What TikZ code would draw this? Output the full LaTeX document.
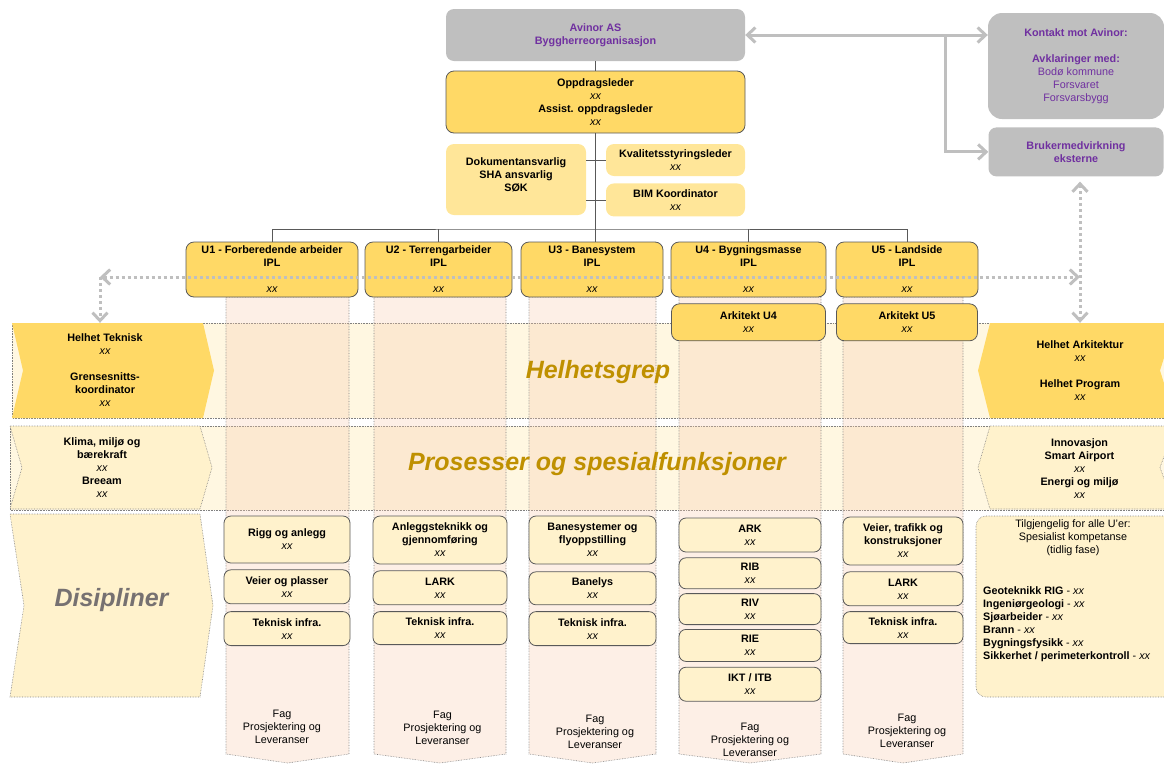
\documentclass[tikz,border=0pt]{standalone}
\usepackage{fontspec}
\setmainfont{Liberation Sans}
\usepackage{tikz}
\usetikzlibrary{positioning, arrows.meta}

\definecolor{avgray}{HTML}{BFBFBF}
\definecolor{avpurple}{HTML}{7030A0}
\definecolor{ipl}{HTML}{FFD966}
\definecolor{stab}{HTML}{FFE699}
\definecolor{fag}{HTML}{FFF2CC}
\definecolor{band}{HTML}{FFF7E1}
\definecolor{colfill}{HTML}{F8CBAD}
\definecolor{gold}{HTML}{BF9000}
\definecolor{disgray}{HTML}{767171}
\definecolor{linegray}{HTML}{595959}
\newcommand{\boxfont}{\fontsize{10.8}{13}\selectfont}
\newcommand{\xx}{{\normalfont\itshape xx}}

\begin{document}
\begin{tikzpicture}[
    x=1pt, y=-1pt,
    >={Straight Barb[length=8pt,width=15pt]},
    topnode/.style={fill=avgray,rounded corners=8,text=avpurple,font=\boxfont\bfseries,align=center,inner sep=0pt},
    iplnode/.style={draw=linegray,line width=.8pt,fill=ipl,rounded corners=8,font=\boxfont\bfseries,align=center,inner sep=0pt},
    stabnode/.style={fill=stab,rounded corners=8,font=\boxfont\bfseries,align=center,inner sep=0pt},
    fagnode/.style={draw=linegray,line width=.8pt,fill=fag,rounded corners=7,minimum width=#1,font=\boxfont\bfseries,align=center,inner sep=0pt},
    chevnode/.style={font=\boxfont\bfseries,align=center,inner sep=0pt},
    plainnode/.style={font=\boxfont,align=center,inner sep=0pt},
    bandrow/.style={fill=band,draw=gray,line width=.6pt,densely dotted},
    bandcol/.style={fill=colfill,fill opacity=.3,draw=gray,line width=.6pt,densely dotted},
    bigtext/.style={font=\fontsize{25}{30}\selectfont\bfseries\itshape,text=gold},
    tree/.style={draw=linegray,line width=.8pt},
    grayarrow/.style={draw=avgray,line width=3pt},
    dotarrow/.style={draw=avgray,line width=3pt,dash pattern=on 3pt off 3pt}
]
\useasboundingbox (0,0) rectangle (1164,764);
\clip (0,0) rectangle (1164,764);

% rader
\filldraw[bandrow] (12,323) rectangle (1175,418);
\filldraw[bandrow] (10,426) rectangle (1175,510);

% kolonner U1-U5
\filldraw[bandcol] (226,297) -- (349,297) -- (349,754) -- (287.5,763) -- (226,754) -- cycle;
\filldraw[bandcol] (374,297) -- (506,297) -- (506,754) -- (440,763) -- (374,754) -- cycle;
\filldraw[bandcol] (529,297) -- (656,297) -- (656,754) -- (592.5,763) -- (529,754) -- cycle;
\filldraw[bandcol] (679,297) -- (821,297) -- (821,754) -- (750,763) -- (679,754) -- cycle;
\filldraw[bandcol] (843,297) -- (963,297) -- (963,754) -- (903,763) -- (843,754) -- cycle;

% piler venstre og hoyre
\fill[ipl] (12,323) -- (203,323) -- (214,370.5) -- (203,418) -- (12,418) -- (23,370.5) -- cycle;
\filldraw[fill=fag,draw=gray,line width=.6pt,densely dotted] (10,426) -- (200,426) -- (212,467.5) -- (200,509) -- (10,509) -- (22,467.5) -- cycle;
\filldraw[fill=fag,draw=gray,line width=.6pt,densely dotted] (10,514) -- (200,514) -- (213,605.5) -- (200,697) -- (10,697) -- (24,605.5) -- cycle;
\fill[ipl] (990,323) -- (1175,323) -- (1160,370.5) -- (1175,418) -- (990,418) -- (978,370.5) -- cycle;
\filldraw[fill=fag,draw=gray,line width=.6pt,densely dotted] (990,426) -- (1175,426) -- (1160,467.5) -- (1175,509) -- (990,509) -- (978,467.5) -- cycle;
\filldraw[fill=fag,draw=gray,line width=.6pt,densely dotted,rounded corners=10] (976,516) rectangle (1180,697);

\node[chevnode,minimum width=180,minimum height=95] (ht) at (105,370.5) {Helhet Teknisk\\\xx\\[13pt]Grensesnitts-\\koordinator\\\xx};
\node[chevnode] (klima) at (102,468) {Klima, miljø og\\bærekraft\\\xx\\Breeam\\\xx};
\node[bigtext,text=disgray] (dis) at (111.5,600) {Disipliner};
\node[chevnode,minimum width=170,minimum height=95] (ha) at (1080,370.5) {Helhet Arkitektur\\\xx\\[13pt]Helhet Program\\\xx};
\node[chevnode] (innov) at (1079.5,469) {Innovasjon\\Smart Airport\\\xx\\Energi og miljø\\\xx};
\node[plainnode] (spestop) at (1073,537.5) {Tilgjengelig for alle U’er:\\Spesialist kompetanse\\(tidlig fase)};
\node[plainnode,align=left,anchor=west] (speslist) at (983,624.5) {\textbf{Geoteknikk RIG} - \xx\\\textbf{Ingeniørgeologi} - \xx\\\textbf{Sjøarbeider} - \xx\\\textbf{Brann} - \xx\\\textbf{Bygningsfysikk} - \xx\\\textbf{Sikkerhet / perimeterkontroll} - \xx};

% store titler
\node[bigtext] (helhet) at (598,372) {Helhetsgrep};
\node[bigtext] (prosess) at (597,464) {Prosesser og spesialfunksjoner};

% byggherre og ledelse
\node[topnode,minimum width=299,minimum height=52] (avinor) at (595.5,35) {Avinor AS\\Byggherreorganisasjon};
\node[iplnode,minimum width=299,minimum height=62] (oppdrag) at (595.5,102) {Oppdragsleder\\\xx\\Assist. oppdragsleder\\\xx};
\node[stabnode,minimum width=140,minimum height=71,text depth=10pt] (dok) at (516,179.5) {Dokumentansvarlig\\SHA ansvarlig\\SØK};
\node[stabnode,minimum width=139,minimum height=32] (kval) at (675.5,160) {Kvalitetsstyringsleder\\\xx};
\node[stabnode,minimum width=139,minimum height=33,below=7pt of kval] (bim) {BIM Koordinator\\\xx};
\node[topnode,rounded corners=14,minimum width=176,minimum height=106,font=\boxfont] (kontakt) at (1076,66) {\textbf{Kontakt mot Avinor:}\\[13pt]\textbf{Avklaringer med:}\\Bodø kommune\\Forsvaret\\Forsvarsbygg};
\node[topnode,minimum width=175,minimum height=49,below=8pt of kontakt] (bruker) {Brukermedvirkning\\eksterne};

% U-ledere
\node[iplnode,minimum width=172,minimum height=55] (u1) at (272,269.5) {U1 - Forberedende arbeider\\IPL\\[13pt]\xx};
\node[iplnode,minimum width=147,minimum height=55] (u2) at (438.5,269.5) {U2 - Terrengarbeider\\IPL\\[13pt]\xx};
\node[iplnode,minimum width=142,minimum height=55] (u3) at (592,269.5) {U3 - Banesystem\\IPL\\[13pt]\xx};
\node[iplnode,minimum width=155,minimum height=55] (u4) at (748.5,269.5) {U4 - Bygningsmasse\\IPL\\[13pt]\xx};
\node[iplnode,minimum width=142,minimum height=55] (u5) at (907,269.5) {U5 - Landside\\IPL\\[13pt]\xx};
\node[iplnode,minimum width=154,minimum height=37,below=6pt of u4] (ark4) {Arkitekt U4\\\xx};
\node[iplnode,minimum width=141,minimum height=37,below=6pt of u5] (ark5) {Arkitekt U5\\\xx};

% fag U1
\node[fagnode=126,minimum height=47] (rigg) at (287,539.5) {Rigg og anlegg\\\xx};
\node[fagnode=126,minimum height=34,below=6pt of rigg] (veier1) {Veier og plasser\\\xx};
\node[fagnode=126,minimum height=34,below=7pt of veier1] (tek1) {Teknisk infra.\\\xx};
% fag U2
\node[fagnode=134,minimum height=48] (anlegg) at (440,540) {Anleggsteknikk og\\gjennomføring\\\xx};
\node[fagnode=134,minimum height=34,below=6pt of anlegg] (lark2) {LARK\\\xx};
\node[fagnode=134,minimum height=33,below=6pt of lark2] (tek2) {Teknisk infra.\\\xx};
% fag U3
\node[fagnode=127,minimum height=48] (bane) at (592.5,540) {Banesystemer og\\flyoppstilling\\\xx};
\node[fagnode=127,minimum height=33,below=7pt of bane] (banelys) {Banelys\\\xx};
\node[fagnode=127,minimum height=34,below=6pt of banelys] (tek3) {Teknisk infra.\\\xx};
% fag U4
\node[fagnode=142,minimum height=34] (ark) at (750,535) {ARK\\\xx};
\node[fagnode=142,minimum height=31,below=5pt of ark] (rib) {RIB\\\xx};
\node[fagnode=142,minimum height=31,below=4pt of rib] (riv) {RIV\\\xx};
\node[fagnode=142,minimum height=32,below=4pt of riv] (rie) {RIE\\\xx};
\node[fagnode=142,minimum height=34,below=5pt of rie] (ikt) {IKT / ITB\\\xx};
% fag U5
\node[fagnode=120,minimum height=48] (veier5) at (903,541) {Veier, trafikk og\\konstruksjoner\\\xx};
\node[fagnode=120,minimum height=34,below=6pt of veier5] (lark5) {LARK\\\xx};
\node[fagnode=120,minimum height=32,below=5pt of lark5] (tek5) {Teknisk infra.\\\xx};

% leveranser
\node[plainnode] (lev1) at (282,726.5) {Fag\\Prosjektering og\\Leveranser};
\node[plainnode] (lev2) at (442.5,728) {Fag\\Prosjektering og\\Leveranser};
\node[plainnode] (lev3) at (595,731.5) {Fag\\Prosjektering og\\Leveranser};
\node[plainnode] (lev4) at (750,739.5) {Fag\\Prosjektering og\\Leveranser};
\node[plainnode] (lev5) at (907,731) {Fag\\Prosjektering og\\Leveranser};

% linjer i organisasjonen
\coordinate (bus) at (595.5,229);
\draw[tree] (avinor.south) -- (oppdrag.north);
\draw[tree] (oppdrag.south) -- (bus);
\draw[tree] (u1.north) |- (bus) -| (u5.north);
\draw[tree] (u2.north) -- (u2.north |- bus);
\draw[tree] (bus) -- (bus |- u3.north);
\draw[tree] (u4.north) -- (u4.north |- bus);
\draw[tree] (dok.east |- kval.west) -- (kval.west);
\draw[tree] (dok.east |- bim.west) -- (bim.west);

% kontakt mot Avinor
\coordinate (split) at (945,35);
\draw[grayarrow,<->] (avinor.east) -- (avinor.east -| kontakt.west);
\draw[grayarrow,->] (split) |- (bruker.west);

% helhet paa tvers
\coordinate (dotL) at (100,277);
\coordinate (dotR) at (1080,277);
\draw[dotarrow,<->] (dotL) -- (dotR);
\draw[dotarrow,->] (dotL) -- (dotL |- ht.north);
\draw[dotarrow,<->,shorten <=5pt] (dotR |- bruker.south) -- (dotR |- ha.north);
\end{tikzpicture}
\end{document}
